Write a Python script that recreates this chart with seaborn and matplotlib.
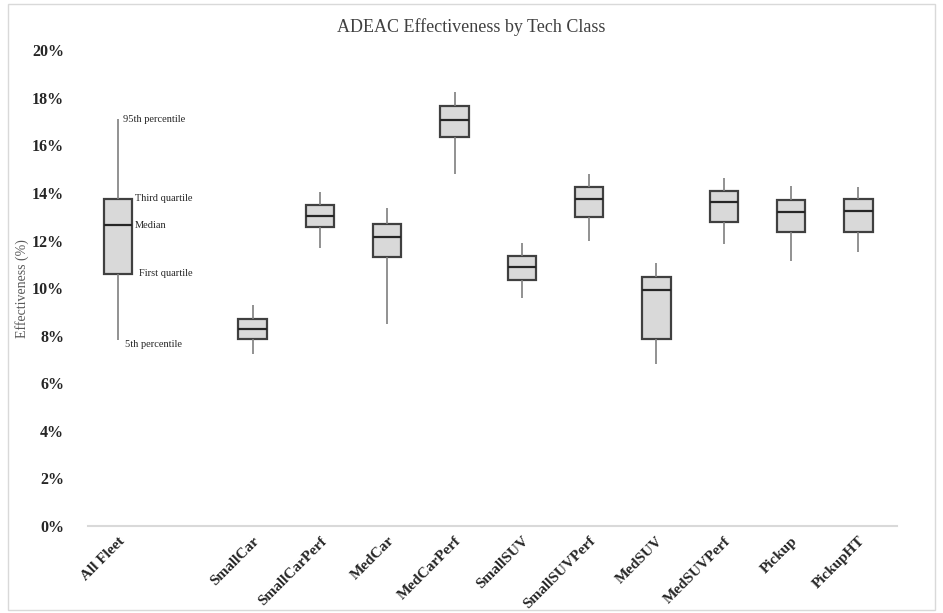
import matplotlib
matplotlib.use("Agg")
import matplotlib.pyplot as plt
import matplotlib.patches as mpatches
from matplotlib.ticker import FuncFormatter
import seaborn as sns
import pandas as pd

# Tech classes (blank slot separates the fleet from the classes)
categories = ["All Fleet", " ", "SmallCar", "SmallCarPerf", "MedCar", "MedCarPerf",
              "SmallSUV", "SmallSUVPerf", "MedSUV", "MedSUVPerf", "Pickup", "PickupHT"]

# Percentile summaries (effectiveness, %)
p5 = [7.8, None, 7.25, 11.7, 8.5, 14.8, 9.6, 12.0, 6.8, 11.85, 11.15, 11.5]
q1 = [10.6, None, 7.85, 12.55, 11.3, 16.35, 10.35, 13.0, 7.85, 12.8, 12.35, 12.35]
median = [12.65, None, 8.3, 13.05, 12.15, 17.05, 10.9, 13.75, 9.9, 13.6, 13.2, 13.25]
q3 = [13.75, None, 8.7, 13.5, 12.7, 17.65, 11.35, 14.25, 10.45, 14.1, 13.7, 13.75]
p95 = [17.1, None, 9.3, 14.05, 13.35, 18.25, 11.9, 14.8, 11.05, 14.65, 14.3, 14.25]

annotation_labels = ["95th percentile", "Third quartile", "Median", "First quartile", "5th percentile"]

FONT = ["Liberation Serif", "DejaVu Serif"]


def build_frame():
    # five points per class -> quartiles land exactly on q1/median/q3,
    # whiskers at (0, 100) percentiles land on p5/p95
    rows = []
    for i, cat in enumerate(categories):
        if p5[i] is None:
            continue
        for v in (p5[i], q1[i], median[i], q3[i], p95[i]):
            rows.append({"Class": cat, "Effectiveness": v})
    return pd.DataFrame(rows)


def main():
    sns.set_theme(style="white")
    plt.rcParams["font.family"] = FONT

    df = build_frame()
    fig = plt.figure(figsize=(9.43, 6.13), dpi=100)
    ax = fig.add_axes([0.093, 0.142, 0.858, 0.776])

    sns.boxplot(data=df, x="Class", y="Effectiveness", order=categories, ax=ax,
                whis=(0, 100), width=0.42, showcaps=False, showfliers=False,
                color="#d9d9d9", linecolor="#404040", saturation=1,
                boxprops=dict(facecolor="#d9d9d9", edgecolor="#404040", linewidth=1.6),
                medianprops=dict(color="#262626", linewidth=1.6),
                whiskerprops=dict(color="#7f7f7f", linewidth=1.2))

    ax.set_ylim(0, 20)
    ax.set_xlim(-0.45, 11.57)
    ax.set_yticks(range(0, 21, 2))
    ax.yaxis.set_major_formatter(FuncFormatter(lambda v, _: f"{v:.0f}%"))
    ax.tick_params(axis="y", length=0, pad=17, labelsize=11.5, labelcolor="#262626")
    ax.tick_params(axis="x", length=0, pad=6, labelsize=11, labelcolor="#262626")
    for lab in ax.get_yticklabels():
        lab.set_fontweight("bold")
    plt.setp(ax.get_xticklabels(), rotation=45, ha="right", va="top",
             rotation_mode="anchor", fontweight="bold")

    for side in ("top", "right", "left"):
        ax.spines[side].set_visible(False)
    ax.spines["bottom"].set_color("#d9d9d9")
    ax.spines["bottom"].set_linewidth(1.5)

    ax.set_xlabel("")
    ax.set_ylabel("Effectiveness (%)", fontsize=10, color="#595959")
    ax.yaxis.set_label_coords(-0.073, 0.5)
    fig.suptitle("ADEAC Effectiveness by Tech Class", y=0.956, va="center",
                 fontsize=13, color="#404040")

    # explain the All Fleet box
    ann_y = [p95[0], q3[0], median[0], q1[0], p5[0] - 0.15]
    ann_x = [0.07, 0.25, 0.25, 0.31, 0.1]
    for text, x, y in zip(annotation_labels, ann_x, ann_y):
        ax.text(x, y, text, fontsize=7.5, color="#262626", ha="left", va="center")

    # light chart-area border
    fig.patches.append(mpatches.Rectangle((0.008, 0.005), 0.984, 0.988, transform=fig.transFigure,
                                          fill=False, edgecolor="#d9d9d9", linewidth=1.0))

    fig.savefig("out.png", dpi=100)
    plt.close(fig)


if __name__ == "__main__":
    main()
